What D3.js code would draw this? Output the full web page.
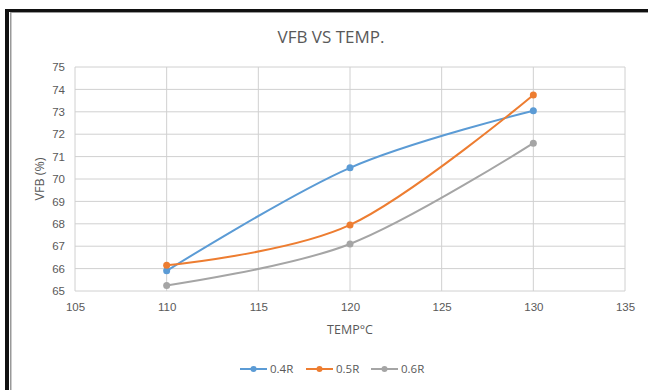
<!DOCTYPE html>
<html>
<head>
<meta charset="utf-8">
<script src="https://cdn.jsdelivr.net/npm/d3@7"></script>
<style>
  body { margin: 0; background: #fff; }
  svg { display: block; font-family: "Open Sans", sans-serif; }
  .grid line { stroke: #d0d0d0; stroke-width: 1; }
  .tick text { fill: #595959; font-size: 11.5px; }
</style>
</head>
<body>
<script>
var temps = [110, 120, 130];
var seriesNames = ["0.4R", "0.5R", "0.6R"];
var vfb04 = [65.9, 70.5, 73.05];
var vfb05 = [66.15, 67.95, 73.75];
var vfb06 = [65.25, 67.1, 71.6];
var colors = ["#5b9bd5", "#ed7d31", "#a5a5a5"];
var xTicks = [105, 110, 115, 120, 125, 130, 135];
var yTicks = [65, 66, 67, 68, 69, 70, 71, 72, 73, 74, 75];

var width = 648, height = 390;

var series = [vfb04, vfb05, vfb06].map(function(vals, i) {
    return {
      name: seriesNames[i],
      color: colors[i],
      values: vals.map(function(v, j) { return {x: temps[j], y: v}; })
    };
});

var svg = d3.select("body").append("svg")
    .attr("width", width)
    .attr("height", height);

// frame of the screenshot (left and top only)
svg.append("rect").attr("x", 5).attr("y", 9).attr("width", width - 5).attr("height", 3).attr("fill", "#111");
svg.append("rect").attr("x", 5).attr("y", 9).attr("width", 4).attr("height", height - 9).attr("fill", "#111");
svg.append("rect").attr("x", 10).attr("y", 12).attr("width", 1.5).attr("height", height - 12).attr("fill", "#999");
svg.append("rect").attr("x", 10).attr("y", 12).attr("width", width - 10).attr("height", 1).attr("fill", "#999");

var x = d3.scaleLinear().domain([105, 135]).range([75, 625]);
var y = d3.scaleLinear().domain([65, 75]).range([291, 67]);

// gridlines
var grid = svg.append("g").attr("class", "grid");
grid.selectAll(".h").data(yTicks).enter().append("line")
    .attr("x1", x(105)).attr("x2", x(135))
    .attr("y1", function(d) { return y(d); }).attr("y2", function(d) { return y(d); });
grid.selectAll(".v").data(xTicks).enter().append("line")
    .attr("y1", y(65)).attr("y2", y(75))
    .attr("x1", function(d) { return x(d); }).attr("x2", function(d) { return x(d); });

// axes (labels only)
var xAxis = svg.append("g")
    .attr("transform", "translate(0," + y(65) + ")")
    .call(d3.axisBottom(x).tickValues(xTicks).tickSize(0).tickPadding(12));
xAxis.select(".domain").remove();

var yAxis = svg.append("g")
    .attr("transform", "translate(" + x(105) + ",0)")
    .call(d3.axisLeft(y).tickValues(yTicks).tickSize(0).tickPadding(10));
yAxis.select(".domain").remove();

// title and axis titles
svg.append("text")
    .attr("x", 331).attr("y", 43)
    .attr("text-anchor", "middle")
    .attr("fill", "#595959")
    .style("font-size", "17px")
    .text("VFB VS TEMP.");

svg.append("text")
    .attr("x", 350).attr("y", 334)
    .attr("text-anchor", "middle")
    .attr("fill", "#595959")
    .style("font-size", "12.5px")
    .text("TEMP°C");

svg.append("text")
    .attr("transform", "translate(44," + ((67 + 291) / 2) + ") rotate(-90)")
    .attr("text-anchor", "middle")
    .attr("fill", "#595959")
    .style("font-size", "12.5px")
    .text("VFB (%)");

// lines
var line = d3.line()
    .x(function(d) { return x(d.x); })
    .y(function(d) { return y(d.y); })
    .curve(d3.curveCardinal.tension(0));

var g = svg.append("g").selectAll("g").data(series).enter().append("g");

g.append("path")
    .attr("fill", "none")
    .attr("stroke", function(d) { return d.color; })
    .attr("stroke-width", 2)
    .attr("d", function(d) { return line(d.values); });

g.selectAll("circle").data(function(d) { return d.values.map(function(v) { return {x: v.x, y: v.y, color: d.color}; }); })
    .enter().append("circle")
    .attr("cx", function(d) { return x(d.x); })
    .attr("cy", function(d) { return y(d.y); })
    .attr("r", 3.5)
    .attr("fill", function(d) { return d.color; });

// legend
var legendX = [240, 306, 371];
var legend = svg.append("g").selectAll("g").data(series).enter().append("g")
    .attr("transform", function(d, i) { return "translate(" + legendX[i] + ",369)"; });
legend.append("line")
    .attr("x1", 0).attr("x2", 27)
    .attr("stroke", function(d) { return d.color; })
    .attr("stroke-width", 2);
legend.append("circle")
    .attr("cx", 13.5).attr("r", 3)
    .attr("fill", function(d) { return d.color; });
legend.append("text")
    .attr("x", 30).attr("dy", "0.35em")
    .attr("fill", "#595959")
    .style("font-size", "11.5px")
    .text(function(d) { return d.name; });
</script>
</body>
</html>
